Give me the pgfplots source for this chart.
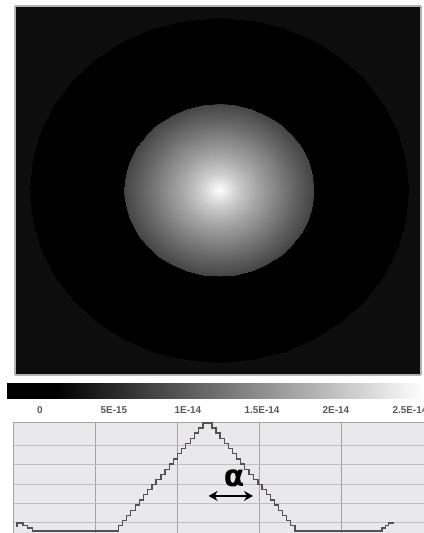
\documentclass[border=0pt]{standalone}
\usepackage{fontspec}
\setmainfont{Liberation Sans}
\newfontfamily\dejavu{DejaVu Sans}
\usepackage{pgfplots}
\pgfplotsset{compat=1.18}
\usetikzlibrary{arrows.meta}
\definecolor{gridc}{HTML}{A9A1A1}
\definecolor{gridh}{HTML}{C4BDBD}
\definecolor{plotbg}{HTML}{E9E9EB}
\definecolor{linec}{HTML}{555151}
\begin{document}
\begin{tikzpicture}
% ---------------- image (radial intensity, cylindrical data) ----------------
\begin{axis}[at={(15bp,158bp)}, anchor=south west, scale only axis,
  width=406bp, height=369bp, view={0}{90},
  xmin=-1.079, xmax=1.069, ymin=-1.076, ymax=1.070,
  xtick=\empty, ytick=\empty, ztick=\empty,
  axis line style={draw=black!30, line width=1.2bp},
  colormap/blackwhite, point meta min=0, point meta max=1]
\addplot3[surf, shader=interp, data cs=polar, mesh/cols=37] coordinates {
(0,0,1) (10,0,1) (20,0,1) (30,0,1) (40,0,1) (50,0,1) (60,0,1) (70,0,1) (80,0,1) (90,0,1) (100,0,1) (110,0,1) (120,0,1) (130,0,1) (140,0,1) (150,0,1) (160,0,1) (170,0,1) (180,0,1) (190,0,1) (200,0,1) (210,0,1) (220,0,1) (230,0,1) (240,0,1) (250,0,1) (260,0,1) (270,0,1) (280,0,1) (290,0,1) (300,0,1) (310,0,1) (320,0,1) (330,0,1) (340,0,1) (350,0,1) (360,0,1)
(0,0.04,0.92) (10,0.04,0.92) (20,0.04,0.92) (30,0.04,0.92) (40,0.04,0.92) (50,0.04,0.92) (60,0.04,0.92) (70,0.04,0.92) (80,0.04,0.92) (90,0.04,0.92) (100,0.04,0.92) (110,0.04,0.92) (120,0.04,0.92) (130,0.04,0.92) (140,0.04,0.92) (150,0.04,0.92) (160,0.04,0.92) (170,0.04,0.92) (180,0.04,0.92) (190,0.04,0.92) (200,0.04,0.92) (210,0.04,0.92) (220,0.04,0.92) (230,0.04,0.92) (240,0.04,0.92) (250,0.04,0.92) (260,0.04,0.92) (270,0.04,0.92) (280,0.04,0.92) (290,0.04,0.92) (300,0.04,0.92) (310,0.04,0.92) (320,0.04,0.92) (330,0.04,0.92) (340,0.04,0.92) (350,0.04,0.92) (360,0.04,0.92)
(0,0.10,0.80) (10,0.10,0.80) (20,0.10,0.80) (30,0.10,0.80) (40,0.10,0.80) (50,0.10,0.80) (60,0.10,0.80) (70,0.10,0.80) (80,0.10,0.80) (90,0.10,0.80) (100,0.10,0.80) (110,0.10,0.80) (120,0.10,0.80) (130,0.10,0.80) (140,0.10,0.80) (150,0.10,0.80) (160,0.10,0.80) (170,0.10,0.80) (180,0.10,0.80) (190,0.10,0.80) (200,0.10,0.80) (210,0.10,0.80) (220,0.10,0.80) (230,0.10,0.80) (240,0.10,0.80) (250,0.10,0.80) (260,0.10,0.80) (270,0.10,0.80) (280,0.10,0.80) (290,0.10,0.80) (300,0.10,0.80) (310,0.10,0.80) (320,0.10,0.80) (330,0.10,0.80) (340,0.10,0.80) (350,0.10,0.80) (360,0.10,0.80)
(0,0.20,0.65) (10,0.20,0.65) (20,0.20,0.65) (30,0.20,0.65) (40,0.20,0.65) (50,0.20,0.65) (60,0.20,0.65) (70,0.20,0.65) (80,0.20,0.65) (90,0.20,0.65) (100,0.20,0.65) (110,0.20,0.65) (120,0.20,0.65) (130,0.20,0.65) (140,0.20,0.65) (150,0.20,0.65) (160,0.20,0.65) (170,0.20,0.65) (180,0.20,0.65) (190,0.20,0.65) (200,0.20,0.65) (210,0.20,0.65) (220,0.20,0.65) (230,0.20,0.65) (240,0.20,0.65) (250,0.20,0.65) (260,0.20,0.65) (270,0.20,0.65) (280,0.20,0.65) (290,0.20,0.65) (300,0.20,0.65) (310,0.20,0.65) (320,0.20,0.65) (330,0.20,0.65) (340,0.20,0.65) (350,0.20,0.65) (360,0.20,0.65)
(0,0.30,0.52) (10,0.30,0.52) (20,0.30,0.52) (30,0.30,0.52) (40,0.30,0.52) (50,0.30,0.52) (60,0.30,0.52) (70,0.30,0.52) (80,0.30,0.52) (90,0.30,0.52) (100,0.30,0.52) (110,0.30,0.52) (120,0.30,0.52) (130,0.30,0.52) (140,0.30,0.52) (150,0.30,0.52) (160,0.30,0.52) (170,0.30,0.52) (180,0.30,0.52) (190,0.30,0.52) (200,0.30,0.52) (210,0.30,0.52) (220,0.30,0.52) (230,0.30,0.52) (240,0.30,0.52) (250,0.30,0.52) (260,0.30,0.52) (270,0.30,0.52) (280,0.30,0.52) (290,0.30,0.52) (300,0.30,0.52) (310,0.30,0.52) (320,0.30,0.52) (330,0.30,0.52) (340,0.30,0.52) (350,0.30,0.52) (360,0.30,0.52)
(0,0.40,0.39) (10,0.40,0.39) (20,0.40,0.39) (30,0.40,0.39) (40,0.40,0.39) (50,0.40,0.39) (60,0.40,0.39) (70,0.40,0.39) (80,0.40,0.39) (90,0.40,0.39) (100,0.40,0.39) (110,0.40,0.39) (120,0.40,0.39) (130,0.40,0.39) (140,0.40,0.39) (150,0.40,0.39) (160,0.40,0.39) (170,0.40,0.39) (180,0.40,0.39) (190,0.40,0.39) (200,0.40,0.39) (210,0.40,0.39) (220,0.40,0.39) (230,0.40,0.39) (240,0.40,0.39) (250,0.40,0.39) (260,0.40,0.39) (270,0.40,0.39) (280,0.40,0.39) (290,0.40,0.39) (300,0.40,0.39) (310,0.40,0.39) (320,0.40,0.39) (330,0.40,0.39) (340,0.40,0.39) (350,0.40,0.39) (360,0.40,0.39)
(0,0.50,0.27) (10,0.50,0.27) (20,0.50,0.27) (30,0.50,0.27) (40,0.50,0.27) (50,0.50,0.27) (60,0.50,0.27) (70,0.50,0.27) (80,0.50,0.27) (90,0.50,0.27) (100,0.50,0.27) (110,0.50,0.27) (120,0.50,0.27) (130,0.50,0.27) (140,0.50,0.27) (150,0.50,0.27) (160,0.50,0.27) (170,0.50,0.27) (180,0.50,0.27) (190,0.50,0.27) (200,0.50,0.27) (210,0.50,0.27) (220,0.50,0.27) (230,0.50,0.27) (240,0.50,0.27) (250,0.50,0.27) (260,0.50,0.27) (270,0.50,0.27) (280,0.50,0.27) (290,0.50,0.27) (300,0.50,0.27) (310,0.50,0.27) (320,0.50,0.27) (330,0.50,0.27) (340,0.50,0.27) (350,0.50,0.27) (360,0.50,0.27)
(0,0.503,0) (10,0.503,0) (20,0.503,0) (30,0.503,0) (40,0.503,0) (50,0.503,0) (60,0.503,0) (70,0.503,0) (80,0.503,0) (90,0.503,0) (100,0.503,0) (110,0.503,0) (120,0.503,0) (130,0.503,0) (140,0.503,0) (150,0.503,0) (160,0.503,0) (170,0.503,0) (180,0.503,0) (190,0.503,0) (200,0.503,0) (210,0.503,0) (220,0.503,0) (230,0.503,0) (240,0.503,0) (250,0.503,0) (260,0.503,0) (270,0.503,0) (280,0.503,0) (290,0.503,0) (300,0.503,0) (310,0.503,0) (320,0.503,0) (330,0.503,0) (340,0.503,0) (350,0.503,0) (360,0.503,0)
(0,1.0,0) (10,1.0,0) (20,1.0,0) (30,1.0,0) (40,1.0,0) (50,1.0,0) (60,1.0,0) (70,1.0,0) (80,1.0,0) (90,1.0,0) (100,1.0,0) (110,1.0,0) (120,1.0,0) (130,1.0,0) (140,1.0,0) (150,1.0,0) (160,1.0,0) (170,1.0,0) (180,1.0,0) (190,1.0,0) (200,1.0,0) (210,1.0,0) (220,1.0,0) (230,1.0,0) (240,1.0,0) (250,1.0,0) (260,1.0,0) (270,1.0,0) (280,1.0,0) (290,1.0,0) (300,1.0,0) (310,1.0,0) (320,1.0,0) (330,1.0,0) (340,1.0,0) (350,1.0,0) (360,1.0,0)
(0,1.004,0.05) (10,1.004,0.05) (20,1.004,0.05) (30,1.004,0.05) (40,1.004,0.05) (50,1.004,0.05) (60,1.004,0.05) (70,1.004,0.05) (80,1.004,0.05) (90,1.004,0.05) (100,1.004,0.05) (110,1.004,0.05) (120,1.004,0.05) (130,1.004,0.05) (140,1.004,0.05) (150,1.004,0.05) (160,1.004,0.05) (170,1.004,0.05) (180,1.004,0.05) (190,1.004,0.05) (200,1.004,0.05) (210,1.004,0.05) (220,1.004,0.05) (230,1.004,0.05) (240,1.004,0.05) (250,1.004,0.05) (260,1.004,0.05) (270,1.004,0.05) (280,1.004,0.05) (290,1.004,0.05) (300,1.004,0.05) (310,1.004,0.05) (320,1.004,0.05) (330,1.004,0.05) (340,1.004,0.05) (350,1.004,0.05) (360,1.004,0.05)
(0,1.6,0.05) (10,1.6,0.05) (20,1.6,0.05) (30,1.6,0.05) (40,1.6,0.05) (50,1.6,0.05) (60,1.6,0.05) (70,1.6,0.05) (80,1.6,0.05) (90,1.6,0.05) (100,1.6,0.05) (110,1.6,0.05) (120,1.6,0.05) (130,1.6,0.05) (140,1.6,0.05) (150,1.6,0.05) (160,1.6,0.05) (170,1.6,0.05) (180,1.6,0.05) (190,1.6,0.05) (200,1.6,0.05) (210,1.6,0.05) (220,1.6,0.05) (230,1.6,0.05) (240,1.6,0.05) (250,1.6,0.05) (260,1.6,0.05) (270,1.6,0.05) (280,1.6,0.05) (290,1.6,0.05) (300,1.6,0.05) (310,1.6,0.05) (320,1.6,0.05) (330,1.6,0.05) (340,1.6,0.05) (350,1.6,0.05) (360,1.6,0.05)
};
\end{axis}
% ---------------- colour bar ----------------
\begin{axis}[at={(7bp,134bp)}, anchor=south west, scale only axis,
  width=417bp, height=16bp, view={0}{90},
  xmin=-0.223, xmax=2.595, ymin=0, ymax=1,
  xtick={0,0.5,1,1.5,2,2.5},
  xticklabels={0,5E-15,1E-14,1.5E-14,2E-14,2.5E-14},
  ytick=\empty, ztick=\empty, major tick length=0pt,
  axis line style={draw=none},
  xticklabel style={font=\fontsize{10}{11}\selectfont\bfseries, text=black!65, yshift=-4bp},
  colormap/blackwhite, point meta min=0, point meta max=1]
\addplot3[surf, shader=interp, mesh/cols=3] coordinates {
(-0.223,0,0) (0.1,0,0) (2.595,0,1)
(-0.223,1,0) (0.1,1,0) (2.595,1,1)
};
\end{axis}
% ---------------- profile ----------------
\begin{axis}[at={(13bp,0bp)}, anchor=south west, scale only axis,
  width=411bp, height=111bp,
  xmin=0, xmax=5, ymin=-0.52, ymax=5.2,
  xtick={0,1,2,3,4,5}, ytick={0,1,2,3,4},
  xticklabels={}, yticklabels={}, major tick length=0pt,
  grid=major,
  major x grid style={draw=gridc, line width=0.9bp},
  major y grid style={draw=gridh, line width=1.1bp},
  axis line style={draw=gridc, line width=1bp},
  axis background/.style={fill=plotbg}, clip=false]
\addplot[const plot, color=linec, line width=1.3bp] coordinates {
(0.05,-0.20) (0.05,0.00) (0.12,-0.14) (0.18,-0.27) (0.24,-0.41)
(1.28,-0.15) (1.33,0.12) (1.38,0.39) (1.43,0.65) (1.49,0.92) (1.54,1.18) (1.59,1.45)
(1.64,1.71) (1.69,1.98) (1.74,2.24) (1.80,2.51) (1.85,2.77) (1.90,3.04) (1.95,3.30)
(2.00,3.57) (2.05,3.83) (2.10,4.10) (2.16,4.36) (2.21,4.63) (2.26,4.89) (2.31,5.15)
(2.42,4.89) (2.47,4.63) (2.52,4.36) (2.57,4.10) (2.62,3.83) (2.67,3.57) (2.72,3.30)
(2.77,3.04) (2.82,2.77) (2.87,2.51) (2.93,2.24) (2.98,1.98) (3.03,1.71) (3.08,1.45)
(3.13,1.18) (3.18,0.92) (3.23,0.65) (3.28,0.39) (3.33,0.12) (3.38,-0.15) (3.43,-0.41)
(4.49,-0.27) (4.53,-0.14) (4.57,0.00) (4.64,0.00)
};
\node[inner sep=0pt, font=\dejavu\bfseries\fontsize{30}{30}\selectfont] at (axis cs:2.69,2.29) {α};
\draw[{Stealth[length=9bp,width=10bp]}-{Stealth[length=9bp,width=10bp]}, line width=2.8bp, black]
  (axis cs:2.38,1.39) -- (axis cs:2.92,1.39);
\end{axis}
\pgfresetboundingbox
\path[use as bounding box] (0,0) rectangle (424bp,533bp);
\end{tikzpicture}
\end{document}
